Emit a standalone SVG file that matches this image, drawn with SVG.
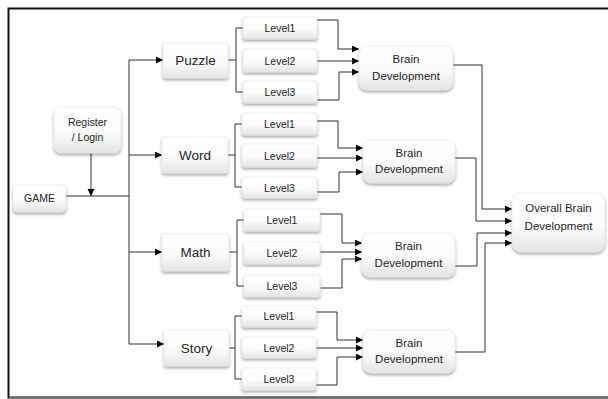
<svg xmlns="http://www.w3.org/2000/svg" width="608" height="399" viewBox="0 0 608 399">
<style>
.box{fill:url(#g);stroke:#e2e2e2;stroke-width:0.6;filter:url(#sh)}
.t{font-family:"Liberation Sans",Arial,sans-serif;fill:#262626;text-anchor:middle}
.lv{font-size:10.5px}
.big{font-size:13.5px}
.br{font-size:11.5px}
.sm{font-size:10.5px}
.c{fill:none;stroke:#333;stroke-width:1}
.a{marker-end:url(#ar)}
</style>
<defs>
<linearGradient id="g" x1="0" y1="0" x2="0" y2="1">
<stop offset="0" stop-color="#ffffff"/>
<stop offset="0.55" stop-color="#fbfbfb"/>
<stop offset="1" stop-color="#e4e4e4"/>
</linearGradient>
<filter id="sh" x="-20%" y="-20%" width="140%" height="160%">
<feDropShadow dx="0" dy="2" stdDeviation="1.5" flood-color="#000" flood-opacity="0.35"/>
</filter>
<marker id="ar" markerUnits="userSpaceOnUse" markerWidth="8" markerHeight="8" refX="7" refY="3.5" orient="auto">
<path d="M0,0 L7,3.5 L0,7 z" fill="#000"/>
</marker>
</defs>
<rect width="608" height="399" fill="#fff"/>
<path d="M612,8.5 H8.5 V397.5 H612" fill="none" stroke="#111" stroke-width="2"/>
<path d="M9,397.5 H612" fill="none" stroke="#666" stroke-width="1.5"/>

<g id="connectors">
<path class="c" d="M66,196 H129"/>
<path class="c a" d="M91,153 V196"/>
<path class="c" d="M129,60 V344"/>
<path class="c a" d="M129,60 H163"/>
<path class="c a" d="M129,155 H162"/>
<path class="c a" d="M129,252 H162"/>
<path class="c a" d="M129,344 H164"/>
<path class="c" d="M228,60 H236 M243,28 H236 V92 H243"/>
<path class="c" d="M228,155 H235 M242,124 H235 V187 H242"/>
<path class="c" d="M229,252 H237 M244,220 H237 V286 H244"/>
<path class="c" d="M229,348 H235 M242,316 H235 V379 H242"/>
<path class="c a" d="M317,20 H338 V49 H359"/>
<path class="c a" d="M317,61 H359"/>
<path class="c a" d="M317,100 H339 V72 H359"/>
<path class="c a" d="M317,121 H338 V148 H363"/>
<path class="c a" d="M317,158 H363"/>
<path class="c a" d="M317,192 H339 V172 H363"/>
<path class="c a" d="M320,214 H342 V243 H362"/>
<path class="c a" d="M320,252 H362"/>
<path class="c a" d="M320,288 H342 V259 H362"/>
<path class="c a" d="M316,312 H337 V340 H363"/>
<path class="c a" d="M316,348 H363"/>
<path class="c a" d="M316,385 H337 V357 H363"/>
<path class="c a" d="M453,65 H482 V209 H512"/>
<path class="c a" d="M455,158 H476 V221 H512"/>
<path class="c a" d="M455,266 H477 V233 H512"/>
<path class="c a" d="M455,352 H485 V243 H512"/>
</g>

<g id="game"><rect class="box" x="13" y="185" width="53" height="27" rx="4"/><text class="t sm" x="39.5" y="202">GAME</text></g>
<g id="register"><rect class="box" x="54" y="107" width="67" height="46" rx="7"/><text class="t sm" x="87.5" y="126">Register</text><text class="t sm" x="87.5" y="141">/ Login</text></g>

<g id="puzzle"><rect class="box" x="163" y="43" width="65" height="35" rx="2"/><text class="t big" x="195.5" y="65">Puzzle</text></g>
<g id="word"><rect class="box" x="162" y="137" width="66" height="36" rx="2"/><text class="t big" x="195" y="160">Word</text></g>
<g id="math"><rect class="box" x="162" y="234" width="67" height="37" rx="2"/><text class="t big" x="195.5" y="257">Math</text></g>
<g id="story"><rect class="box" x="164" y="330" width="65" height="36" rx="2"/><text class="t big" x="196.5" y="353">Story</text></g>

<g id="puzzle-l1"><rect class="box" x="243" y="17" width="74" height="22" rx="2"/><text class="t lv" x="280" y="32">Level1</text></g>
<g id="puzzle-l2"><rect class="box" x="243" y="49" width="74" height="23" rx="2"/><text class="t lv" x="280" y="64.5">Level2</text></g>
<g id="puzzle-l3"><rect class="box" x="243" y="81" width="74" height="22" rx="2"/><text class="t lv" x="280" y="96">Level3</text></g>

<g id="word-l1"><rect class="box" x="242" y="113" width="75" height="22" rx="2"/><text class="t lv" x="279.5" y="128">Level1</text></g>
<g id="word-l2"><rect class="box" x="242" y="144" width="75" height="23" rx="2"/><text class="t lv" x="279.5" y="159.5">Level2</text></g>
<g id="word-l3"><rect class="box" x="242" y="177" width="75" height="21" rx="2"/><text class="t lv" x="279.5" y="191.5">Level3</text></g>

<g id="math-l1"><rect class="box" x="244" y="209" width="76" height="22" rx="2"/><text class="t lv" x="282" y="223.5">Level1</text></g>
<g id="math-l2"><rect class="box" x="244" y="242" width="76" height="22" rx="2"/><text class="t lv" x="282" y="256.5">Level2</text></g>
<g id="math-l3"><rect class="box" x="244" y="275" width="76" height="22" rx="2"/><text class="t lv" x="282" y="290">Level3</text></g>

<g id="story-l1"><rect class="box" x="242" y="306" width="74" height="21" rx="2"/><text class="t lv" x="279" y="320">Level1</text></g>
<g id="story-l2"><rect class="box" x="242" y="337" width="74" height="21" rx="2"/><text class="t lv" x="279" y="351.5">Level2</text></g>
<g id="story-l3"><rect class="box" x="242" y="368" width="74" height="22" rx="2"/><text class="t lv" x="279" y="383">Level3</text></g>

<g id="brain1"><rect class="box" x="359" y="46" width="94" height="44" rx="8"/><text class="t br" x="406" y="63">Brain</text><text class="t br" x="406" y="80">Development</text></g>
<g id="brain2"><rect class="box" x="363" y="140" width="92" height="43" rx="8"/><text class="t br" x="409" y="157">Brain</text><text class="t br" x="409" y="173">Development</text></g>
<g id="brain3"><rect class="box" x="362" y="233" width="93" height="44" rx="8"/><text class="t br" x="408.5" y="250">Brain</text><text class="t br" x="408.5" y="267">Development</text></g>
<g id="brain4"><rect class="box" x="363" y="330" width="92" height="43" rx="8"/><text class="t br" x="409" y="347">Brain</text><text class="t br" x="409" y="363">Development</text></g>

<g id="overall"><rect class="box" x="512" y="193" width="93" height="59" rx="9"/><text class="t br" x="558.5" y="212">Overall Brain</text><text class="t br" x="558.5" y="230">Development</text></g>
</svg>
